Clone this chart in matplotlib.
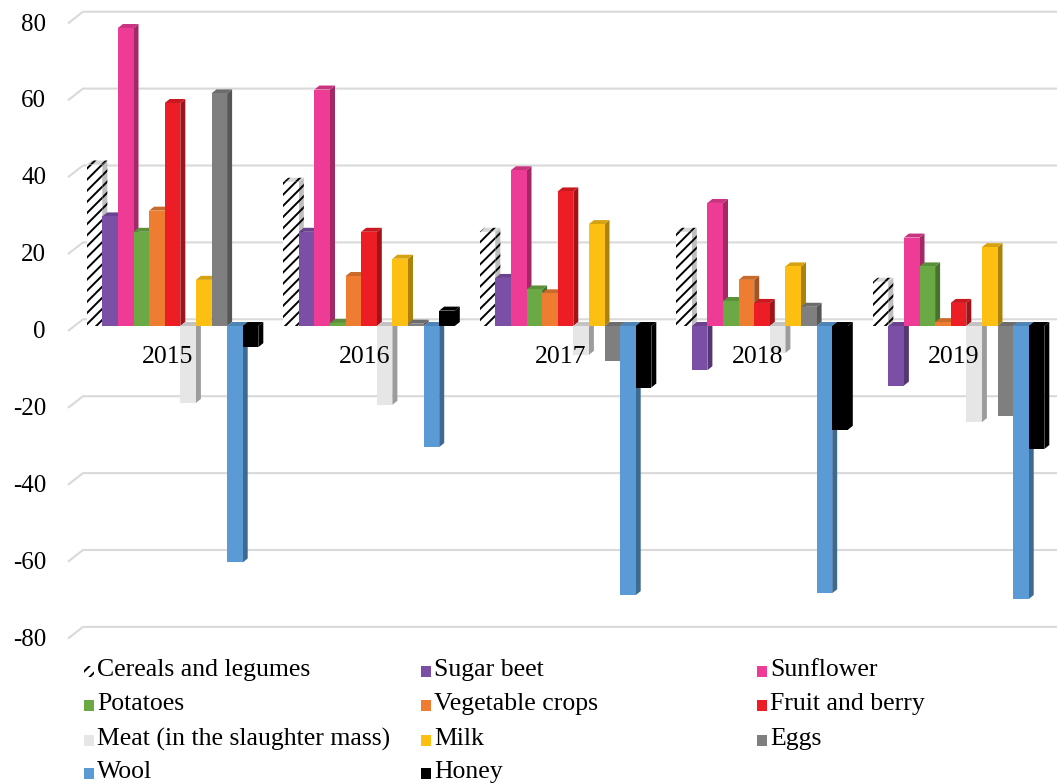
import matplotlib.pyplot as plt
import matplotlib.colors as mcolors
from matplotlib.patches import Polygon, Rectangle
import numpy as np

plt.rcParams['font.family'] = ['Liberation Serif', 'DejaVu Serif']
plt.rcParams['hatch.linewidth'] = 1.4

years = ['2015', '2016', '2017', '2018', '2019']
products = ['Cereals and legumes', 'Sugar beet', 'Sunflower',
            'Potatoes', 'Vegetable crops', 'Fruit and berry',
            'Meat (in the slaughter mass)', 'Milk', 'Eggs',
            'Wool', 'Honey']
cereals = [42, 37.5, 24.5, 24.5, 11.5]
sugar_beet = [28.5, 24.5, 12.5, -11.5, -15.5]
sunflower = [77.5, 61.5, 40.5, 32, 23]
potatoes = [24.5, 0.8, 9.5, 6.5, 15.5]
vegetables = [30, 13, 8.5, 12, 1]
fruit = [58, 24.5, 35, 6, 6]
meat = [-20, -20.5, -7.5, -7, -25]
milk = [12, 17.5, 26.5, 15.5, 20.5]
eggs = [60.5, 0.6, -9, 5, -23.5]
wool = [-61.5, -31.5, -70, -69.5, -71]
honey = [-5.5, 4, -16, -27, -32]
series = [cereals, sugar_beet, sunflower, potatoes, vegetables, fruit,
          meat, milk, eggs, wool, honey]
colors = ['#ffffff', '#7b4fa6', '#ee3c96', '#6aa943', '#ee7d31', '#ec1d25',
          '#e6e6e6', '#fdbf12', '#7f7f7f', '#5b9bd5', '#000000']
ticks = np.arange(-80, 81, 20)

W, H = 1057, 783
fig = plt.figure(figsize=(W / 100, H / 100), dpi=100)
ax = fig.add_axes([0, 0, 1, 1])

# axes scaled so that one group is 196.5 px wide and one unit is 3.845 px
gx = 196.5
uy = 3.845
cx = 172.5   # x of first group centre, px
zy = 326     # y of bar base, px from top
ax.set_xlim(-cx / gx, (W - cx) / gx)
ax.set_ylim((zy - H) / uy, zy / uy)
ax.axis('off')

def px(x):
    return (x - cx) / gx

# back wall gridlines with the little floor slant on the left
back = 6.7 / uy
front = -5 / uy
for g in ticks:
    ax.plot([px(68), px(83), px(W)], [g + front, g + back, g + back],
            color='#d9d9d9', lw=1.5, zorder=0, solid_capstyle='butt')
    ax.text(px(46), g - 1.6, str(g), ha='right', va='center', fontsize=18)

# category labels sit on top of the bars
for i, y in enumerate(years):
    ax.text(i - 4.5 / gx, -8.0, y, ha='center', va='center', fontsize=18.5, zorder=200)

# bars with a side and top face for the 3d look
w = 15.6 / gx
dx = 5 / gx
dy = 4 / uy
for i in range(len(years)):
    for k, vals in enumerate(series):
        v = vals[i]
        left = i - 5.5 * w + k * w
        right = left + w
        top = max(v, 0)
        bot = min(v, 0)
        z = 2 + i * 20 + k * 0.1
        rgb = np.array(mcolors.to_rgb(colors[k]))
        hatch = '///' if k == 0 else None
        side_c = rgb * (0.75 if k == 0 else 0.68)
        top_c = rgb * 0.85
        side = Polygon([(right, bot), (right + dx, bot + dy), (right + dx, top + dy), (right, top)],
                       closed=True, facecolor=side_c, edgecolor='black', lw=0, hatch=hatch, zorder=z)
        cap = Polygon([(left, top), (left + dx, top + dy), (right + dx, top + dy), (right, top)],
                      closed=True, facecolor=top_c, edgecolor='black', lw=0, hatch=hatch, zorder=z)
        face = Rectangle((left, bot), w, top - bot, facecolor=rgb, edgecolor='black',
                         lw=0, hatch=hatch, zorder=z + 0.01)
        ax.add_patch(side)
        ax.add_patch(cap)
        ax.add_patch(face)

# legend, three columns filled row by row
leg_cols = [84, 421, 757]
leg_rows = [670, 704, 739, 772]
for n, name in enumerate(products):
    r, c = divmod(n, 3)
    mx, my = leg_cols[c], leg_rows[r]
    hatch = '///' if n == 0 else None
    fig.patches.append(Rectangle((mx / W, 1 - (my + 7) / H), 10 / W, 11 / H,
                                 transform=fig.transFigure, facecolor=colors[n],
                                 edgecolor='black', lw=0, hatch=hatch))
    fig.text((mx + 13) / W, 1 - my / H, name, va='center', fontsize=18.5)

fig.savefig('out.png', dpi=100, facecolor='white')
